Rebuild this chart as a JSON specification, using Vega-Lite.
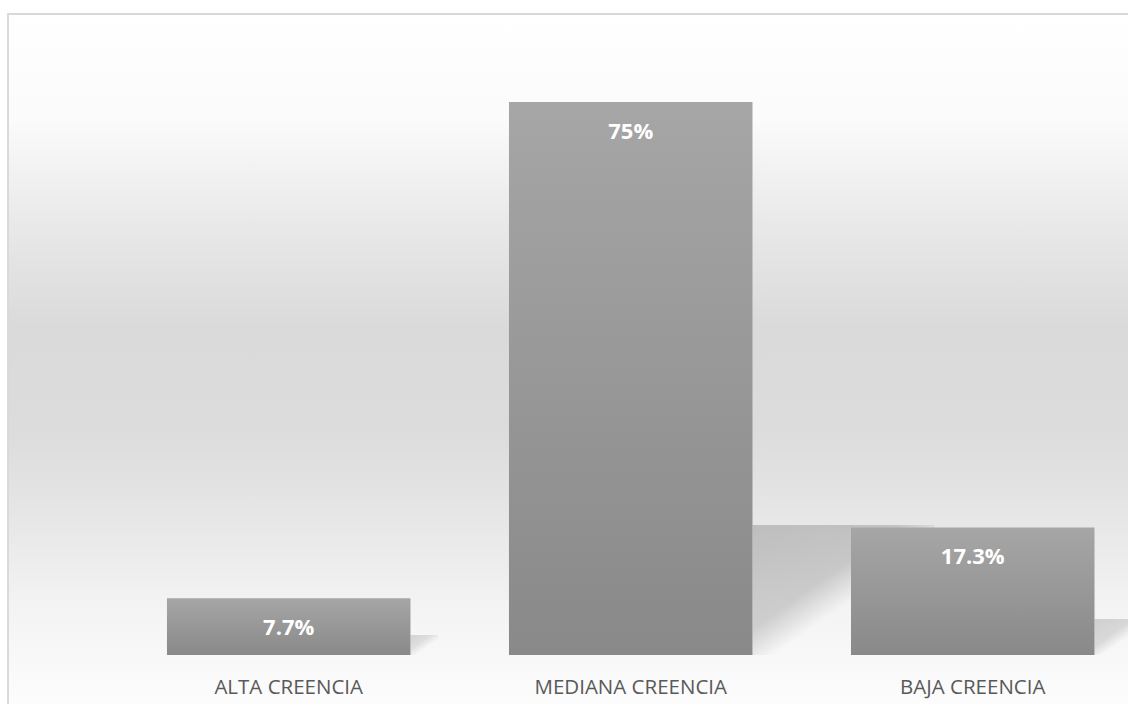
{
  "$schema": "https://vega.github.io/schema/vega-lite/v6.json",
  "width": 1125,
  "height": 695,
  "autosize": {"type": "none"},
  "padding": {"left": 8, "top": 14, "right": 0, "bottom": 0},
  "background": "#ffffff",
  "config": {
    "view": {
      "stroke": "#d9d9d9",
      "strokeWidth": 2,
      "fill": {
        "gradient": "linear", "x1": 0, "y1": 0, "x2": 0, "y2": 1,
        "stops": [
          {"offset": 0, "color": "#ffffff"},
          {"offset": 0.15, "color": "#fbfbfb"},
          {"offset": 0.3, "color": "#e9e9e9"},
          {"offset": 0.45, "color": "#dadada"},
          {"offset": 0.6, "color": "#dcdcdc"},
          {"offset": 0.72, "color": "#e6e6e6"},
          {"offset": 0.85, "color": "#f3f3f3"},
          {"offset": 1, "color": "#fdfdfd"}
        ]
      }
    }
  },
  "data": {
    "values": [
      {"categoria": "ALTA CREENCIA", "valor": 7.7, "etiqueta": "7.7%"},
      {"categoria": "MEDIANA CREENCIA", "valor": 75, "etiqueta": "75%"},
      {"categoria": "BAJA CREENCIA", "valor": 17.3, "etiqueta": "17.3%"}
    ]
  },
  "encoding": {
    "x": {
      "field": "categoria",
      "type": "nominal",
      "sort": null,
      "scale": {"paddingInner": 0.288, "paddingOuter": 0.2887, "align": 0.805},
      "axis": {
        "orient": "bottom",
        "offset": -54,
        "domain": false,
        "ticks": false,
        "grid": false,
        "title": null,
        "labelAngle": 0,
        "labelLimit": 0,
        "labelFont": "Open Sans",
        "labelFontSize": 20.5,
        "labelColor": "#595959",
        "labelBaseline": "alphabetic",
        "labelPadding": 38
      }
    }
  },
  "layer": [
    {
      "transform": [{"filter": "datum.categoria === 'ALTA CREENCIA'"}],
      "mark": {
        "type": "bar", "width": 28, "xOffset": 135.75,
        "color": {
          "gradient": "linear", "x1": 0, "y1": 0, "x2": 1, "y2": 1,
          "stops": [
            {"offset": 0, "color": "rgba(0,0,0,0.14)"},
            {"offset": 0.35, "color": "rgba(0,0,0,0.1)"},
            {"offset": 0.6, "color": "rgba(0,0,0,0)"}
          ]
        }
      },
      "encoding": {
        "y": {"field": "valor", "type": "quantitative", "scale": {"domain": [-20.8, 246.96], "nice": false, "zero": false}, "axis": null},
        "y2": {"datum": 0}
      }
    },
    {
      "transform": [{"filter": "datum.categoria === 'MEDIANA CREENCIA'"}],
      "mark": {
        "type": "bar", "width": 182, "xOffset": 212.75,
        "color": {
          "gradient": "linear", "x1": 0, "y1": 0, "x2": 1, "y2": 1,
          "stops": [
            {"offset": 0, "color": "rgba(0,0,0,0.18)"},
            {"offset": 0.4, "color": "rgba(0,0,0,0.16)"},
            {"offset": 0.56, "color": "rgba(0,0,0,0)"}
          ]
        }
      },
      "encoding": {
        "y": {"field": "valor", "type": "quantitative", "scale": {"domain": [-31.15, 369.8], "nice": false, "zero": false}, "axis": null},
        "y2": {"datum": 0}
      }
    },
    {
      "transform": [{"filter": "datum.categoria === 'BAJA CREENCIA'"}],
      "mark": {
        "type": "bar", "width": 50, "xOffset": 146.75,
        "color": {
          "gradient": "linear", "x1": 0, "y1": 0, "x2": 1, "y2": 1,
          "stops": [
            {"offset": 0, "color": "rgba(0,0,0,0.15)"},
            {"offset": 0.38, "color": "rgba(0,0,0,0.12)"},
            {"offset": 0.58, "color": "rgba(0,0,0,0)"}
          ]
        }
      },
      "encoding": {
        "y": {"field": "valor", "type": "quantitative", "scale": {"domain": [-25.97, 308.3], "nice": false, "zero": false}, "axis": null},
        "y2": {"datum": 0}
      }
    },
    {
      "mark": {
        "type": "bar",
        "color": {
          "gradient": "linear", "x1": 0, "y1": 0, "x2": 0, "y2": 1,
          "stops": [
            {"offset": 0, "color": "#a6a6a6"},
            {"offset": 1, "color": "#898989"}
          ]
        }
      },
      "encoding": {
        "y": {"field": "valor", "type": "quantitative", "scale": {"domain": [-7.324, 86.93], "nice": false, "zero": false}, "axis": null},
        "y2": {"datum": 0}
      }
    },
    {
      "mark": {
        "type": "text",
        "font": "Open Sans",
        "fontWeight": "bold",
        "fontSize": 22,
        "color": "#ffffff",
        "baseline": "alphabetic",
        "align": "center",
        "dy": 37
      },
      "encoding": {
        "y": {"field": "valor", "type": "quantitative", "scale": {"domain": [-7.324, 86.93], "nice": false, "zero": false}, "axis": null},
        "text": {"field": "etiqueta", "type": "nominal"}
      }
    }
  ],
  "resolve": {"scale": {"y": "independent"}}
}
